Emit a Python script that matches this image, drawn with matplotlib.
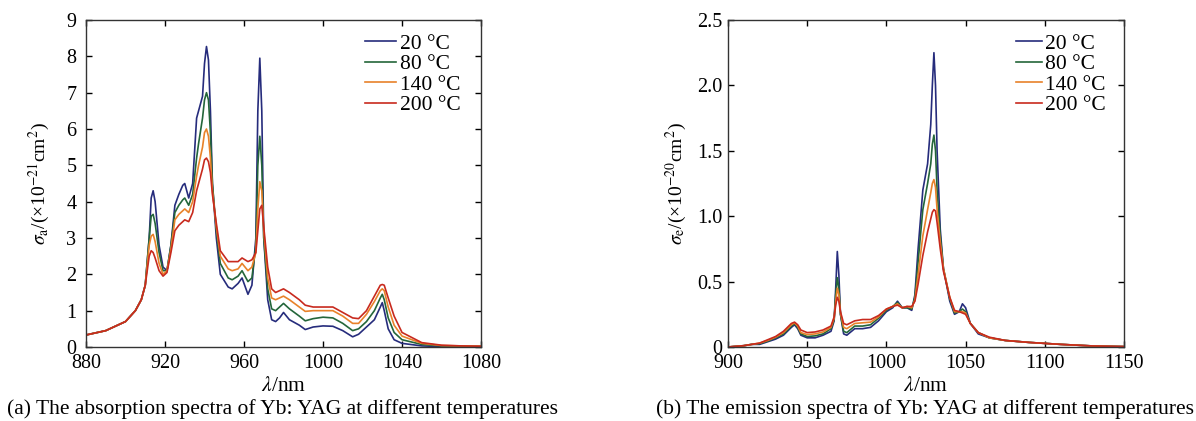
import numpy as np
import matplotlib
matplotlib.use("Agg")
import matplotlib.pyplot as plt
from matplotlib.ticker import FuncFormatter

plt.rcParams['font.family'] = ['Liberation Serif', 'DejaVu Serif']
plt.rcParams['mathtext.fontset'] = 'stix'

labels = ['20 °C', '80 °C', '140 °C', '200 °C']
colors = ['#262c7c', '#24663a', '#e8822a', '#c82a1e']

# absorption spectra (a)
wl_a = [880, 890, 900, 905, 908, 910, 912, 913, 914, 915, 917, 919, 921, 923, 925, 927,
        929, 930, 932, 934, 936, 937, 939, 940, 941, 942, 943, 944, 946, 948, 952, 954,
        957, 959, 962, 964, 966, 967, 968, 969, 970, 972, 974, 976, 978, 980, 983, 988,
        991, 995, 1000, 1005, 1010, 1015, 1018, 1022, 1026, 1029, 1030, 1031, 1033, 1036,
        1040, 1050, 1060, 1070, 1080]
abs_20 = [0.33, 0.45, 0.70, 1.00, 1.30, 1.70, 3.00, 4.10, 4.30, 4.00, 2.80, 2.20, 2.10, 2.80, 3.90, 4.20,
          4.45, 4.50, 4.10, 4.50, 6.30, 6.50, 6.90, 7.80, 8.27, 7.90, 6.50, 4.50, 3.00, 2.00, 1.65, 1.60,
          1.75, 1.90, 1.45, 1.70, 3.00, 6.50, 7.95, 6.50, 3.00, 1.30, 0.75, 0.70, 0.80, 0.95, 0.75, 0.60,
          0.48, 0.55, 0.58, 0.57, 0.45, 0.28, 0.35, 0.55, 0.75, 1.10, 1.22, 1.00, 0.50, 0.20,
          0.10, 0.03, 0.01, 0.01, 0.00]
abs_80 = [0.33, 0.45, 0.70, 1.00, 1.30, 1.70, 3.00, 3.60, 3.65, 3.40, 2.60, 2.10, 2.10, 2.80, 3.70, 3.90,
          4.05, 4.10, 3.90, 4.20, 5.20, 5.60, 6.30, 6.80, 7.00, 6.80, 5.90, 4.50, 3.20, 2.30, 1.90, 1.85,
          1.95, 2.10, 1.80, 1.90, 2.80, 5.00, 5.80, 5.00, 3.00, 1.60, 1.05, 1.00, 1.10, 1.20, 1.05, 0.85,
          0.72, 0.78, 0.82, 0.80, 0.65, 0.45, 0.50, 0.70, 1.00, 1.35, 1.45, 1.30, 0.80, 0.40,
          0.20, 0.07, 0.03, 0.02, 0.02]
abs_140 = [0.33, 0.45, 0.70, 1.00, 1.30, 1.70, 2.80, 3.05, 3.10, 2.90, 2.30, 2.00, 2.10, 2.70, 3.50, 3.65,
           3.75, 3.80, 3.70, 4.00, 4.70, 5.00, 5.50, 5.90, 6.00, 5.80, 5.20, 4.30, 3.30, 2.50, 2.15, 2.10,
           2.15, 2.30, 2.10, 2.20, 2.60, 3.80, 4.55, 4.30, 3.20, 1.90, 1.35, 1.30, 1.35, 1.40, 1.30, 1.10,
           0.98, 1.00, 1.00, 1.00, 0.85, 0.65, 0.65, 0.90, 1.25, 1.55, 1.60, 1.55, 1.10, 0.60,
           0.30, 0.10, 0.04, 0.03, 0.02]
abs_200 = [0.33, 0.45, 0.70, 1.00, 1.30, 1.70, 2.50, 2.65, 2.60, 2.45, 2.10, 1.95, 2.05, 2.60, 3.20, 3.35,
           3.45, 3.50, 3.45, 3.70, 4.30, 4.50, 4.90, 5.15, 5.20, 5.10, 4.80, 4.20, 3.40, 2.65, 2.35, 2.35,
           2.35, 2.45, 2.35, 2.40, 2.60, 3.20, 3.80, 3.90, 3.30, 2.20, 1.60, 1.50, 1.55, 1.60, 1.50, 1.30,
           1.15, 1.10, 1.10, 1.10, 0.95, 0.80, 0.78, 1.00, 1.40, 1.70, 1.72, 1.70, 1.35, 0.85,
           0.40, 0.12, 0.05, 0.03, 0.02]

# emission spectra (b)
wl_e = [900, 910, 915, 920, 925, 930, 935, 940, 942, 944, 946, 950, 955, 960, 965, 967,
        968, 969, 970, 971, 973, 975, 980, 985, 990, 995, 1000, 1004, 1007, 1010, 1013, 1016,
        1018, 1020, 1023, 1026, 1028, 1029, 1030, 1031, 1032, 1034, 1036, 1040, 1043, 1046,
        1048, 1050, 1053, 1058, 1065, 1075, 1090, 1110, 1130, 1150]
em_20 = [0.00, 0.01, 0.02, 0.02, 0.04, 0.06, 0.09, 0.15, 0.17, 0.14, 0.09, 0.07, 0.07, 0.09, 0.12, 0.20,
         0.45, 0.73, 0.55, 0.25, 0.10, 0.09, 0.14, 0.14, 0.15, 0.20, 0.27, 0.30, 0.35, 0.30, 0.30, 0.28,
         0.40, 0.75, 1.20, 1.40, 1.70, 2.00, 2.25, 2.00, 1.50, 0.90, 0.60, 0.35, 0.25, 0.27,
         0.33, 0.30, 0.18, 0.10, 0.07, 0.05, 0.035, 0.02, 0.008, 0.003]
em_80 = [0.00, 0.01, 0.02, 0.025, 0.045, 0.07, 0.10, 0.16, 0.18, 0.15, 0.10, 0.08, 0.085, 0.10, 0.14, 0.21,
         0.40, 0.53, 0.45, 0.25, 0.12, 0.11, 0.16, 0.16, 0.17, 0.22, 0.28, 0.31, 0.34, 0.30, 0.30, 0.29,
         0.38, 0.65, 1.05, 1.25, 1.40, 1.55, 1.62, 1.50, 1.20, 0.85, 0.60, 0.37, 0.26, 0.27,
         0.29, 0.27, 0.18, 0.11, 0.07, 0.05, 0.035, 0.02, 0.008, 0.003]
em_140 = [0.00, 0.01, 0.02, 0.03, 0.05, 0.075, 0.11, 0.17, 0.185, 0.16, 0.11, 0.095, 0.10, 0.115, 0.15, 0.22,
          0.35, 0.45, 0.40, 0.26, 0.15, 0.14, 0.18, 0.185, 0.19, 0.23, 0.29, 0.31, 0.33, 0.30, 0.31, 0.30,
          0.36, 0.55, 0.85, 1.05, 1.18, 1.25, 1.28, 1.22, 1.05, 0.80, 0.60, 0.38, 0.27, 0.27,
          0.27, 0.26, 0.18, 0.11, 0.07, 0.05, 0.035, 0.02, 0.008, 0.003]
em_200 = [0.00, 0.01, 0.02, 0.03, 0.055, 0.08, 0.12, 0.18, 0.19, 0.17, 0.13, 0.11, 0.115, 0.13, 0.16, 0.23,
          0.32, 0.38, 0.35, 0.27, 0.18, 0.17, 0.20, 0.21, 0.21, 0.24, 0.29, 0.31, 0.32, 0.30, 0.31, 0.31,
          0.35, 0.48, 0.70, 0.88, 0.98, 1.03, 1.05, 1.04, 0.95, 0.75, 0.58, 0.38, 0.28, 0.27,
          0.26, 0.25, 0.18, 0.11, 0.075, 0.05, 0.035, 0.02, 0.008, 0.003]

fig = plt.figure(figsize=(11.96, 4.21), dpi=100)
ax1 = fig.add_axes([0.0719, 0.1758, 0.3303, 0.7767])
ax2 = fig.add_axes([0.6087, 0.1758, 0.3311, 0.7767])

for ys, c, lab in zip([abs_20, abs_80, abs_140, abs_200], colors, labels):
    ax1.plot(wl_a, ys, color=c, lw=1.2, label=lab)
for ys, c, lab in zip([em_20, em_80, em_140, em_200], colors, labels):
    ax2.plot(wl_e, ys, color=c, lw=1.2, label=lab)

ax1.set_xlim(880, 1080)
ax1.set_ylim(0, 9)
ax1.set_xticks(np.arange(880, 1081, 40))
ax1.set_yticks(np.arange(0, 10, 1))
ax1.set_ylabel(r'$\sigma_{\rm a}$/(×10$^{-21}$cm$^2$)', fontsize=14, labelpad=10)
ax1.tick_params(axis='y', pad=7)

ax2.set_xlim(900, 1150)
ax2.set_ylim(0, 2.5)
ax2.set_xticks(np.arange(900, 1151, 50))
ax2.set_yticks(np.arange(0, 2.51, 0.5))
ax2.yaxis.set_major_formatter(FuncFormatter(lambda v, p: '0' if v == 0 else '%.1f' % v))
ax2.set_ylabel(r'$\sigma_{\rm e}$/(×10$^{-20}$cm$^2$)', fontsize=14, labelpad=6)
ax2.tick_params(axis='y', pad=4)

for ax in (ax1, ax2):
    ax.set_xlabel(r'$\lambda$/nm', fontsize=15.5, labelpad=3)
    ax.tick_params(direction='in', top=True, right=True, length=4, width=1,
                   labelsize=14.5)
    ax.tick_params(axis='x', pad=5)
    for s in ax.spines.values():
        s.set_linewidth(1.0)
        s.set_color('#333333')

ax1.legend(loc='upper right', frameon=False, fontsize=15.5, handlelength=1.4,
           handletextpad=0.2, labelspacing=0.02, borderaxespad=0.0,
           bbox_to_anchor=(0.97, 0.985))
ax2.legend(loc='upper right', frameon=False, fontsize=15.5, handlelength=1.2,
           handletextpad=0.15, labelspacing=0.02, borderaxespad=0.0,
           bbox_to_anchor=(0.975, 0.985))

fig.text(0.2366, 0.0285, '(a) The absorption spectra of Yb: YAG at different temperatures',
         ha='center', va='center', fontsize=15.5)
fig.text(0.773, 0.0285, '(b) The emission spectra of Yb: YAG at different temperatures',
         ha='center', va='center', fontsize=15.5)

fig.savefig('out.png', dpi=100)
